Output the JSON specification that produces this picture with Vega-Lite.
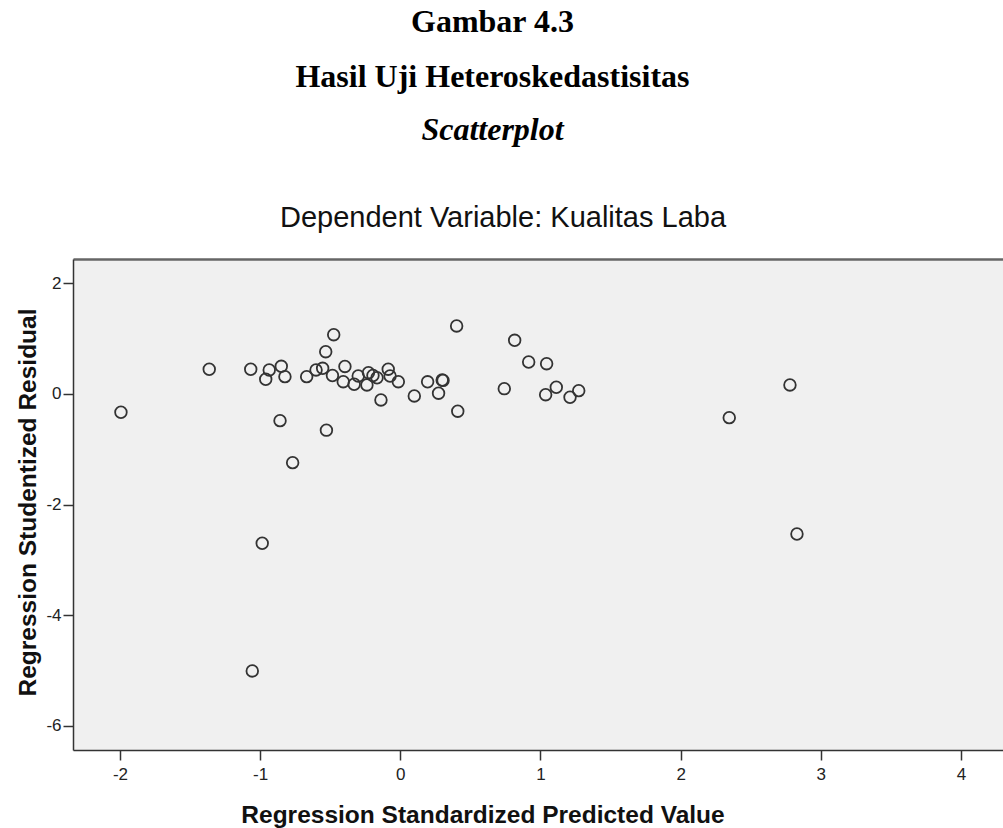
{
  "$schema": "https://vega.github.io/schema/vega-lite/v6.json",
  "width": 930,
  "height": 491,
  "autosize": {"type": "none"},
  "padding": {"left": 73, "top": 259, "right": 0, "bottom": 78},
  "background": "white",
  "title": {
    "text": ["Gambar 4.3", "Hasil Uji Heteroskedastisitas"],
    "subtitle": "Scatterplot",
    "font": "Liberation Serif",
    "fontSize": 32,
    "fontWeight": "bold",
    "color": "black",
    "lineHeight": 55,
    "subtitleFont": "Liberation Serif",
    "subtitleFontSize": 32,
    "subtitleFontStyle": "italic",
    "subtitleFontWeight": "bold",
    "subtitleColor": "black",
    "subtitlePadding": 21,
    "anchor": "middle",
    "frame": "group",
    "dx": -45.5,
    "offset": 56
  },
  "config": {
    "view": {"fill": "#f0f0f0", "stroke": null},
    "axis": {
      "labelFont": "Liberation Sans",
      "labelFontSize": 17,
      "labelColor": "#222222",
      "titleFont": "Liberation Sans",
      "titleFontSize": 24.5,
      "titleFontWeight": "bold",
      "titleColor": "#111111",
      "tickColor": "#333333",
      "tickWidth": 1.5,
      "tickSize": 10,
      "domainColor": "#333333",
      "domainWidth": 1.5,
      "grid": false
    }
  },
  "data": {
    "values": [
      {"predicted": -1.993, "residual": -0.331},
      {"predicted": -1.363, "residual": 0.446},
      {"predicted": -1.067, "residual": 0.446},
      {"predicted": -0.960, "residual": 0.266},
      {"predicted": -0.935, "residual": 0.434},
      {"predicted": -0.849, "residual": 0.500},
      {"predicted": -0.823, "residual": 0.313},
      {"predicted": -0.858, "residual": -0.482},
      {"predicted": -0.668, "residual": 0.313},
      {"predicted": -0.601, "residual": 0.434},
      {"predicted": -0.554, "residual": 0.464},
      {"predicted": -0.532, "residual": 0.764},
      {"predicted": -0.475, "residual": 1.071},
      {"predicted": -0.484, "residual": 0.334},
      {"predicted": -0.395, "residual": 0.497},
      {"predicted": -0.407, "residual": 0.222},
      {"predicted": -0.329, "residual": 0.175},
      {"predicted": -0.300, "residual": 0.325},
      {"predicted": -0.238, "residual": 0.163},
      {"predicted": -0.227, "residual": 0.385},
      {"predicted": -0.195, "residual": 0.334},
      {"predicted": -0.166, "residual": 0.293},
      {"predicted": -0.086, "residual": 0.448},
      {"predicted": -0.073, "residual": 0.325},
      {"predicted": -0.014, "residual": 0.222},
      {"predicted": -0.138, "residual": -0.108},
      {"predicted": 0.100, "residual": -0.036},
      {"predicted": 0.195, "residual": 0.220},
      {"predicted": 0.299, "residual": 0.253},
      {"predicted": 0.305, "residual": 0.245},
      {"predicted": 0.273, "residual": 0.014},
      {"predicted": 0.402, "residual": 1.229},
      {"predicted": 0.410, "residual": -0.311},
      {"predicted": -0.527, "residual": -0.654},
      {"predicted": -0.768, "residual": -1.241},
      {"predicted": -0.985, "residual": -2.698},
      {"predicted": -1.056, "residual": -5.005},
      {"predicted": 0.816, "residual": 0.970},
      {"predicted": 0.916, "residual": 0.578},
      {"predicted": 1.044, "residual": 0.547},
      {"predicted": 0.742, "residual": 0.096},
      {"predicted": 1.037, "residual": -0.013},
      {"predicted": 1.113, "residual": 0.121},
      {"predicted": 1.211, "residual": -0.060},
      {"predicted": 1.273, "residual": 0.060},
      {"predicted": 2.347, "residual": -0.428},
      {"predicted": 2.780, "residual": 0.163},
      {"predicted": 2.830, "residual": -2.530}
    ]
  },
  "layer": [
    {
      "mark": {"type": "point", "shape": "circle", "filled": false, "size": 135, "stroke": "#333333", "strokeWidth": 1.8, "opacity": 1},
      "encoding": {
        "x": {
          "field": "predicted",
          "type": "quantitative",
          "scale": {"domain": [-2.335, 4.3], "nice": false, "zero": false},
          "axis": {
            "orient": "bottom",
            "title": "Regression Standardized Predicted Value",
            "values": [-2, -1, 0, 1, 2, 3, 4],
            "labelExpr": "datum.value < 0 ? '-' + abs(datum.value) : '' + datum.value",
            "labelPadding": 6,
            "titlePadding": 21,
            "titleX": 409.5
          }
        },
        "y": {
          "field": "residual",
          "type": "quantitative",
          "scale": {"domain": [-6.434, 2.439], "nice": false, "zero": false},
          "axis": {
            "orient": "left",
            "title": "Regression Studentized Residual",
            "values": [-6, -4, -2, 0, 2],
            "labelExpr": "datum.value < 0 ? '-' + abs(datum.value) : '' + datum.value",
            "labelPadding": 2,
            "titlePadding": 5,
            "titleY": 243
          }
        }
      }
    },
    {
      "mark": {"type": "point", "opacity": 0},
      "encoding": {
        "x": {
          "field": "predicted",
          "type": "quantitative",
          "axis": {
            "orient": "top",
            "title": "Dependent Variable: Kualitas Laba",
            "titleFontWeight": "normal",
            "titleFontSize": 29,
            "titleColor": "#111111",
            "titleX": 429.5,
            "labels": false,
            "ticks": false,
            "domainColor": "#666666",
            "domainWidth": 2.5,
            "titlePadding": 27
          }
        }
      }
    }
  ]
}
